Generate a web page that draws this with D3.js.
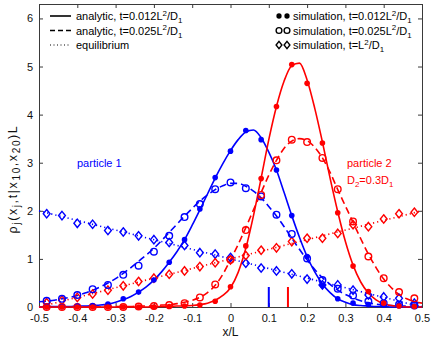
<!DOCTYPE html>
<html>
<head>
<meta charset="utf-8">
<script src="https://cdn.jsdelivr.net/npm/d3@7"></script>
<style>
  body { margin: 0; background: #fff; }
  svg { display: block; font-family: "Liberation Sans", Arial, sans-serif; }
  .axis path, .axis line { stroke: #3a3a3a; }
  .axis text { fill: #111; font-size: 11px; }
</style>
</head>
<body>
<svg id="chart" width="436" height="341"></svg>
<script>
// analytic curves, x grid and values
var gridX = [-0.50,-0.48,-0.46,-0.44,-0.42,-0.40,-0.38,-0.36,-0.34,-0.32,-0.30,-0.28,-0.26,-0.24,-0.22,-0.20,-0.18,-0.16,-0.14,-0.12,-0.10,-0.08,-0.06,-0.04,-0.02,
             0.00,0.02,0.04,0.06,0.08,0.10,0.12,0.14,0.16,0.18,0.20,0.22,0.24,0.26,0.28,0.30,0.32,0.34,0.36,0.38,0.40,0.42,0.44,0.46,0.48,0.50];
var blueSolid = [0,0.01,0.01,0.01,0.01,0.02,0.02,0.03,0.04,0.06,0.10,0.15,0.22,0.31,0.42,0.56,0.73,0.93,1.15,1.40,1.70,2.02,2.35,2.68,2.98,
                 3.25,3.48,3.64,3.68,3.52,3.22,2.85,2.38,1.90,1.45,1.05,0.73,0.48,0.30,0.17,0.10,0.05,0.03,0.02,0.01,0.01,0,0,0,0,0];
var blueDashed = [0.11,0.12,0.14,0.17,0.20,0.24,0.29,0.35,0.42,0.50,0.59,0.70,0.82,0.95,1.08,1.22,1.38,1.55,1.72,1.89,2.05,2.20,2.33,2.44,2.52,
                  2.57,2.57,2.51,2.41,2.27,2.09,1.89,1.67,1.43,1.20,0.98,0.78,0.61,0.47,0.35,0.26,0.19,0.13,0.09,0.06,0.04,0.03,0.02,0.02,0.01,0.01];
var redSolid = [0,0,0,0,0,0,0,0,0,0,0,0,0,0,0,0.01,0.01,0.01,0.02,0.02,0.03,0.05,0.08,0.14,0.24,
                0.40,0.72,1.22,1.90,2.68,3.48,4.17,4.70,5.02,5.07,4.72,4.13,3.43,2.68,1.98,1.36,0.87,0.52,0.29,0.15,0.07,0.03,0.01,0,0,0];
var redDashed = [0,0,0,0,0,0,0,0,0,0.01,0.01,0.01,0.01,0.02,0.02,0.03,0.04,0.05,0.07,0.10,0.14,0.20,0.30,0.45,0.68,
                 0.98,1.30,1.65,2.02,2.38,2.74,3.05,3.30,3.45,3.50,3.46,3.32,3.10,2.80,2.44,2.10,1.76,1.42,1.10,0.82,0.58,0.40,0.26,0.17,0.11,0.08];

// equilibrium densities (straight lines)
var eqX = [-0.5, 0.5];
var eqBlue = [2, 0];
var eqRed = [0, 2];

// simulation histograms
var simX = [-0.48,-0.44,-0.40,-0.36,-0.32,-0.28,-0.24,-0.20,-0.16,-0.12,-0.08,-0.04,0.00,0.04,0.08,0.12,0.16,0.20,0.24,0.28,0.32,0.36,0.40,0.44,0.48];
var simBlueEarly = [0.01,0.01,0.02,0.03,0.06,0.17,0.31,0.56,0.93,1.40,2.04,2.69,3.24,3.67,3.48,2.85,1.90,1.05,0.45,0.17,0.08,0.05,0.04,0.04,0.02];
var simRedEarly = [0,0,0,0,0,0,0,0,0.01,0.02,0.04,0.12,0.42,1.27,2.67,4.17,5.04,4.65,3.41,1.96,0.85,0.32,0.08,0.02,0.01];
var simBlueLate = [0.13,0.17,0.25,0.37,0.46,0.67,0.86,1.15,1.48,1.87,2.14,2.45,2.59,2.47,2.30,1.92,1.52,1.01,0.56,0.38,0.24,0.12,0.08,0.05,0.03];
var simRedLate = [0,0,0,0,0,0,0.01,0.02,0.04,0.08,0.20,0.47,0.98,1.60,2.33,3.05,3.48,3.43,3.10,2.45,1.78,1.05,0.60,0.31,0.18];
var simBlueEq = [1.94,1.90,1.74,1.72,1.59,1.56,1.48,1.40,1.34,1.28,1.13,1.10,1.03,0.91,0.81,0.75,0.69,0.58,0.46,0.46,0.35,0.25,0.21,0.18,0.08];
var simRedEq = [0.09,0.14,0.20,0.27,0.35,0.44,0.53,0.60,0.68,0.75,0.84,0.92,0.98,1.07,1.18,1.23,1.36,1.43,1.43,1.53,1.71,1.67,1.83,1.94,1.97];

// initial positions
var startBlue = 0.10;
var startRed = 0.15;

var xTicks = [-0.5,-0.4,-0.3,-0.2,-0.1,0,0.1,0.2,0.3,0.4,0.5];
var yTicks = [0,1,2,3,4,5,6];

var BLUE = '#0000ff', RED = '#ff0000';

var svg = d3.select('#chart');
var m = {left: 39, right: 14, top: 4, bottom: 34};
var W = 436, H = 341;

var x = d3.scaleLinear().domain([-0.5, 0.5]).range([m.left, W - m.right]);
var y = d3.scaleLinear().domain([0, 6.3]).range([H - m.bottom, m.top]);

var fmtX = function (d) { return d === 0 ? '0' : d3.format('.1f')(d).replace('\u2212', '-'); };

// axes with inward ticks on all four sides
svg.append('g').attr('class', 'axis')
    .attr('transform', 'translate(0,' + (H - m.bottom) + ')')
    .call(d3.axisBottom(x).tickValues(xTicks).tickSize(-4).tickPadding(7).tickFormat(fmtX));
svg.append('g').attr('class', 'axis')
    .attr('transform', 'translate(0,' + m.top + ')')
    .call(d3.axisTop(x).tickValues(xTicks).tickSize(-4).tickFormat(''));
svg.append('g').attr('class', 'axis')
    .attr('transform', 'translate(' + m.left + ',0)')
    .call(d3.axisLeft(y).tickValues(yTicks).tickSize(-4).tickPadding(6).tickFormat(d3.format('d')));
svg.append('g').attr('class', 'axis')
    .attr('transform', 'translate(' + (W - m.right) + ',0)')
    .call(d3.axisRight(y).tickValues(yTicks).tickSize(-4).tickFormat(''));
svg.selectAll('.axis .domain').attr('stroke-width', 1);

var plot = svg.append('g');

var line = d3.line()
    .x(function (d) { return x(d[0]); })
    .y(function (d) { return y(d[1]); })
    .curve(d3.curveMonotoneX);

function zip(xs, ys) { return xs.map(function (v, i) { return [v, ys[i]]; }); }

var curves = [
    {xs: eqX, ys: eqBlue, color: BLUE, dash: '1.2,3'},
    {xs: eqX, ys: eqRed, color: RED, dash: '1.2,3'},
    {xs: gridX, ys: blueDashed, color: BLUE, dash: '7,4'},
    {xs: gridX, ys: redDashed, color: RED, dash: '7,4'},
    {xs: gridX, ys: blueSolid, color: BLUE, dash: null},
    {xs: gridX, ys: redSolid, color: RED, dash: null}
];

plot.selectAll('path.curve')
    .data(curves)
    .enter()
    .append('path')
    .attr('class', 'curve')
    .attr('fill', 'none')
    .attr('stroke', function (d) { return d.color; })
    .attr('stroke-width', 1.6)
    .attr('stroke-dasharray', function (d) { return d.dash; })
    .attr('d', function (d) { return line(zip(d.xs, d.ys)); });

// marker shapes
var diamond = 'M0,-4.2L3.4,0L0,4.2L-3.4,0Z';

function drawMarkers(g, pts, color, kind) {
    var sel = g.selectAll(null).data(pts).enter();
    if (kind === 'dot') {
        sel.append('circle')
            .attr('cx', function (d) { return x(d[0]); })
            .attr('cy', function (d) { return y(d[1]); })
            .attr('r', 2.8)
            .attr('fill', color);
    } else if (kind === 'ring') {
        sel.append('circle')
            .attr('cx', function (d) { return x(d[0]); })
            .attr('cy', function (d) { return y(d[1]); })
            .attr('r', 3.3)
            .attr('fill', 'none')
            .attr('stroke', color)
            .attr('stroke-width', 1.4);
    } else {
        sel.append('path')
            .attr('d', diamond)
            .attr('transform', function (d) { return 'translate(' + x(d[0]) + ',' + y(d[1]) + ')'; })
            .attr('fill', 'none')
            .attr('stroke', color)
            .attr('stroke-width', 1.4);
    }
}

drawMarkers(plot, zip(simX, simBlueEq), BLUE, 'diamond');
drawMarkers(plot, zip(simX, simRedEq), RED, 'diamond');
drawMarkers(plot, zip(simX, simBlueLate), BLUE, 'ring');
drawMarkers(plot, zip(simX, simRedLate), RED, 'ring');
drawMarkers(plot, zip(simX, simBlueEarly), BLUE, 'dot');
drawMarkers(plot, zip(simX, simRedEarly), RED, 'dot');

// initial positions at the bottom
plot.selectAll('line.start')
    .data([[startBlue, BLUE], [startRed, RED]])
    .enter()
    .append('line')
    .attr('x1', function (d) { return x(d[0]); })
    .attr('x2', function (d) { return x(d[0]); })
    .attr('y1', y(0))
    .attr('y2', y(0) - 20)
    .attr('stroke', function (d) { return d[1]; })
    .attr('stroke-width', 2);

// text with sub/superscripts: parts = [text, 'n'|'sup'|'sub']
function richText(g, parts, px, py, size, color, anchor, subScale) {
    var t = g.append('text')
        .attr('x', px).attr('y', py)
        .attr('font-size', size)
        .attr('fill', color)
        .attr('text-anchor', anchor || 'start');
    var level = 0;
    parts.forEach(function (p) {
        var target = p[1] === 'sup' ? -4.5 : p[1] === 'sub' ? 3 : 0;
        t.append('tspan')
            .attr('dy', target - level)
            .attr('font-size', p[1] === 'n' ? size : size * (subScale || 0.72))
            .text(p[0]);
        level = target;
    });
    return t;
}

// left legend
var legL = svg.append('g');
var legRows = [
    {dash: null, parts: [['analytic, t=0.012L', 'n'], ['2', 'sup'], ['/D', 'n'], ['1', 'sub']]},
    {dash: '5,3', parts: [['analytic, t=0.025L', 'n'], ['2', 'sup'], ['/D', 'n'], ['1', 'sub']]},
    {dash: '1,2.5', parts: [['equilibrium', 'n']]}
];
legRows.forEach(function (r, i) {
    var cy = 16 + i * 14.5;
    legL.append('line')
        .attr('x1', 50).attr('x2', 71).attr('y1', cy).attr('y2', cy)
        .attr('stroke', '#000').attr('stroke-width', r.dash === '1,2.5' ? 1 : 1.6)
        .attr('stroke-dasharray', r.dash);
    richText(legL, r.parts, 76, cy + 4, 11, '#000');
});

// right legend
var legR = svg.append('g');
var legRowsR = [
    {kind: 'dot', parts: [['simulation, t=0.012L', 'n'], ['2', 'sup'], ['/D', 'n'], ['1', 'sub']]},
    {kind: 'ring', parts: [['simulation, t=0.025L', 'n'], ['2', 'sup'], ['/D', 'n'], ['1', 'sub']]},
    {kind: 'diamond', parts: [['simulation, t=L', 'n'], ['2', 'sup'], ['/D', 'n'], ['1', 'sub']]}
];
legRowsR.forEach(function (r, i) {
    var cy = 16 + i * 14.5;
    var pts = [[279, cy], [287, cy]];
    legR.selectAll(null).data(pts).enter().append('path')
        .attr('transform', function (d) { return 'translate(' + d[0] + ',' + d[1] + ')'; })
        .attr('d', r.kind === 'diamond' ? 'M0,-3.6L2.9,0L0,3.6L-2.9,0Z' : d3.symbol().type(d3.symbolCircle).size(r.kind === 'dot' ? 22 : 26)())
        .attr('fill', r.kind === 'dot' ? '#000' : 'none')
        .attr('stroke', r.kind === 'dot' ? 'none' : '#000')
        .attr('stroke-width', 1.4);
    richText(legR, r.parts, 293, cy + 4, 11, '#000');
});

// annotations
svg.append('text').attr('x', 77).attr('y', 167).attr('font-size', 11).attr('fill', BLUE).text('particle 1');
svg.append('text').attr('x', 347).attr('y', 167).attr('font-size', 11).attr('fill', RED).text('particle 2');
richText(svg, [['D', 'n'], ['2', 'sub'], ['=0.3D', 'n'], ['1', 'sub']], 347, 184, 11, RED);

// axis labels
svg.append('text')
    .attr('x', x(0)).attr('y', 336)
    .attr('font-size', 12).attr('fill', '#111')
    .attr('text-anchor', 'middle')
    .text('x/L');

var yl = svg.append('g').attr('transform', 'translate(17,179) rotate(-90)');
richText(yl, [['\u03c1', 'n'], ['j', 'sub'], ['(x', 'n'], ['j', 'sub'], [',t|x', 'n'], ['10', 'sub'], [',x', 'n'], ['20', 'sub'], [')L', 'n']], 0, 0, 12.5, '#111', 'middle', 0.8)
    .attr('letter-spacing', 1.6);
</script>
</body>
</html>
